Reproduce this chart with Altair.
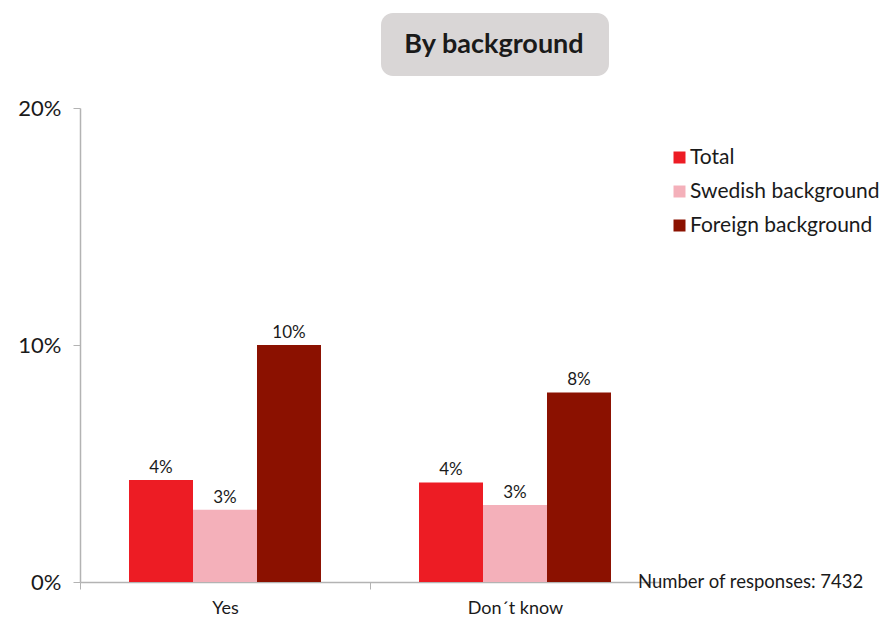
import altair as alt
import pandas as pd

categories = ["Yes", "Don´t know"]
series = ["Total", "Swedish background", "Foreign background"]
colors = ["#ED1C24", "#F4B0BA", "#8B1100"]
values = {
    "Total": [4.3, 4.2],
    "Swedish background": [3.05, 3.25],
    "Foreign background": [10.0, 8.0],
}
y_ticks = [0, 10, 20]
title_text = "By background"
note_text = "Number of responses: 7432"

rows = []
for s in series:
    for c, v in zip(categories, values[s]):
        rows.append({"category": c, "series": s, "value": v})
df = pd.DataFrame(rows)

FONT = "Lato"
AXIS_COLOR = "#b3b3b3"
TEXT = "#1a1a1a"

x_enc = alt.X("category:N", sort=categories, title=None,
              scale=alt.Scale(paddingInner=0.338, paddingOuter=0.169),
              axis=alt.Axis(labelAngle=0, labelFontSize=18, labelFont=FONT, labelColor=TEXT,
                            labelPadding=10, tickOffset=-145, labelOffset=145, tickSize=7,
                            tickColor=AXIS_COLOR, domainColor=AXIS_COLOR, domainWidth=1.5))
y_enc = alt.Y("value:Q", title=None,
              scale=alt.Scale(domain=[0, 20], nice=False),
              axis=alt.Axis(values=y_ticks, labelExpr="datum.value + '%'", labelFontSize=22,
                            labelFont=FONT, labelColor=TEXT, labelPadding=12, tickSize=7,
                            tickColor=AXIS_COLOR, domainColor=AXIS_COLOR, domainWidth=1.5,
                            grid=False))
xoff = alt.XOffset("series:N", sort=series, scale=alt.Scale(paddingInner=0, paddingOuter=0))

base = alt.Chart(df)

bars = base.mark_bar().encode(
    x=x_enc, y=y_enc, xOffset=xoff,
    color=alt.Color("series:N", sort=series,
                    scale=alt.Scale(domain=series, range=colors),
                    legend=alt.Legend(title=None, orient="none", legendX=589, legendY=39,
                                      symbolType="square", symbolSize=144, symbolStrokeWidth=0,
                                      labelFontSize=21, labelFont=FONT, labelColor=TEXT,
                                      labelLimit=400, rowPadding=12, labelOffset=0)),
)

labels = base.mark_text(dy=-12, fontSize=17, font=FONT, color=TEXT).encode(
    x=alt.X("category:N", sort=categories),
    y="value:Q",
    xOffset=xoff,
).transform_calculate(lbl="format(datum.value, '.0f') + '%'").encode(text="lbl:N")

title_df = pd.DataFrame({"t": [title_text]})
title_box = alt.Chart(title_df).mark_rect(color="#d9d6d6", cornerRadius=12).encode(
    x=alt.value(301), x2=alt.value(529), y=alt.value(-95), y2=alt.value(-32))
title_txt = alt.Chart(title_df).mark_text(fontSize=27, fontWeight="bold", font=FONT,
                                          color=TEXT, align="center", baseline="middle").encode(
    x=alt.value(414), y=alt.value(-63), text="t:N")

note_df = pd.DataFrame({"t": [note_text]})
note = alt.Chart(note_df).mark_text(fontSize=18.5, font=FONT, color=TEXT, align="left",
                                    baseline="middle").encode(
    x=alt.value(558), y=alt.value(474), text="t:N")

chart = alt.layer(bars, labels, title_box, title_txt, note).properties(
    width=580, height=474,
    autosize=alt.AutoSizeParams(type="none"),
    padding={"left": 72, "top": 100, "right": 220, "bottom": 40},
).configure(background="white").configure_view(stroke=None).configure_axis(grid=False)

chart.save("out.html", embed_options={"renderer": "svg", "actions": False})
